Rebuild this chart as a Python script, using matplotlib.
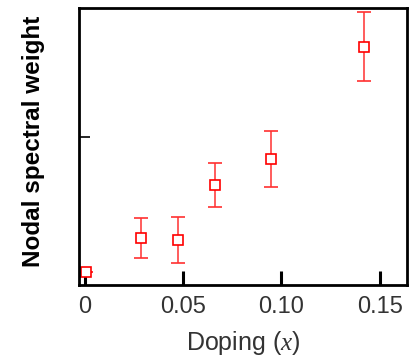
import matplotlib
matplotlib.use("Agg")
import matplotlib.pyplot as plt

# doping values and nodal spectral weight (arb. units)
doping = [0.0005, 0.0287, 0.0474, 0.0663, 0.0946, 0.142]
weight = [0.09, 0.315, 0.306, 0.676, 0.853, 1.61]
yerr = [0.0, 0.135, 0.155, 0.15, 0.19, 0.23]

xticks = [0, 0.05, 0.10, 0.15]
xticklabels = ["0", "0.05", "0.10", "0.15"]

plt.rcParams["font.family"] = ["Liberation Sans", "DejaVu Sans"]
plt.rcParams["mathtext.fontset"] = "custom"
plt.rcParams["mathtext.it"] = "Liberation Serif:italic"
plt.rcParams["mathtext.rm"] = "Liberation Sans"

fig = plt.figure(figsize=(4.18, 3.56), dpi=100)
ax = fig.add_axes([0.189, 0.1994, 0.785, 0.778])

ax.errorbar(doping, weight, yerr=yerr, fmt="s", mfc="white", mec="#ff0000",
            mew=1.2, ms=6.5, ecolor="#ff3030", elinewidth=1.1, capsize=5,
            capthick=1.1)

ax.set_xlim(-0.003, 0.164)
ax.set_ylim(0, 1.87)
ax.set_xticks(xticks)
ax.set_xticklabels(xticklabels, fontsize=17, color="#333333")
ax.set_yticks([1.0])
ax.set_yticklabels([])

ax.tick_params(axis="x", direction="in", length=10, width=2.2, pad=8)
ax.tick_params(axis="y", direction="in", length=8, width=1.2)
for s in ax.spines.values():
    s.set_linewidth(2)

ax.set_xlabel(r"Doping ($x$)", fontsize=18, color="#333333", labelpad=8)
ax.set_ylabel("Nodal spectral weight", fontsize=17.5, fontweight="heavy")
ax.yaxis.set_label_coords(-0.105, 0.52)

plt.savefig("out.png", dpi=100)
